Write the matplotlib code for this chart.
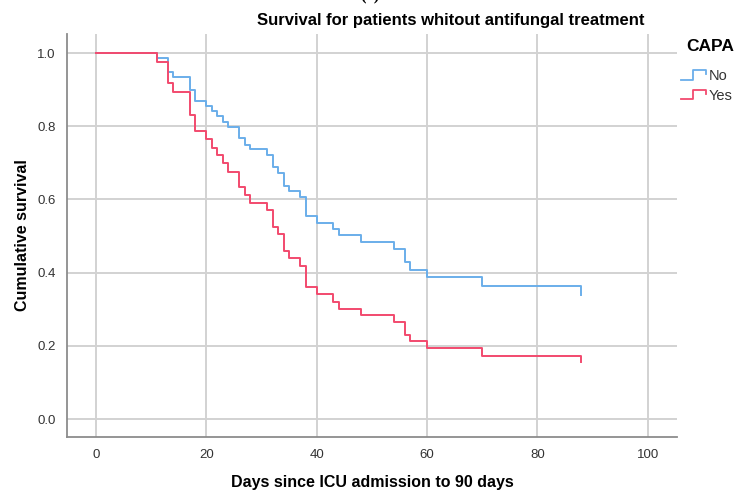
import matplotlib
matplotlib.use("Agg")
import matplotlib.pyplot as plt
from matplotlib.legend_handler import HandlerBase
from matplotlib.lines import Line2D

# Kaplan-Meier estimates (same event days for both groups)
days = [0, 11, 13, 14, 17, 18, 20, 21, 22, 23, 24, 26, 27, 28, 31, 32, 33,
        34, 35, 37, 38, 40, 43, 44, 48, 54, 56, 57, 60, 70, 88]
surv_no = [1.0, 0.987, 0.949, 0.935, 0.899, 0.870, 0.855, 0.842, 0.828, 0.812,
           0.797, 0.767, 0.749, 0.737, 0.721, 0.690, 0.672, 0.638, 0.622, 0.607,
           0.554, 0.537, 0.520, 0.502, 0.483, 0.464, 0.428, 0.408, 0.387, 0.363,
           0.339]
surv_yes = [1.0, 0.976, 0.917, 0.893, 0.831, 0.788, 0.764, 0.742, 0.721, 0.699,
            0.676, 0.635, 0.612, 0.590, 0.570, 0.525, 0.505, 0.460, 0.439, 0.419,
            0.361, 0.342, 0.321, 0.302, 0.284, 0.266, 0.231, 0.213, 0.193, 0.173,
            0.157]
groups = ["No", "Yes"]
colors = ["#6aaeea", "#f24a6e"]
x_ticks = [0, 20, 40, 60, 80, 100]
y_ticks = [0.0, 0.2, 0.4, 0.6, 0.8, 1.0]

plt.rcParams['font.family'] = ['Liberation Sans', 'DejaVu Sans']


class StepHandler(HandlerBase):
    def create_artists(self, legend, orig_handle, xdescent, ydescent,
                       width, height, fontsize, trans):
        x0, x1 = -xdescent, -xdescent + width
        y0, y1 = -ydescent + 0.05 * height, -ydescent + 0.95 * height
        xm = x0 + 0.5 * width
        line = Line2D([x0, xm, xm, x1, x1], [y0, y0, y1, y1, y1 - 0.35 * height],
                      color=orig_handle.get_color(), lw=1.3, transform=trans)
        return [line]


fig = plt.figure(figsize=(7.39, 4.94), dpi=100)
ax = fig.add_axes([0.0907, 0.1154, 0.8253, 0.8156])

handles = []
for s, c in zip([surv_no, surv_yes], colors):
    h, = ax.step(days, s, where='post', color=c, lw=1.4, zorder=3)
    handles.append(h)

ax.set_xlim(-5.25, 105.3)
ax.set_ylim(-0.049, 1.052)
ax.set_xticks(x_ticks)
ax.set_yticks(y_ticks)
ax.set_yticklabels([f"{v:.1f}" for v in y_ticks])
ax.grid(True, color="#d2d2d2", lw=1.4)
ax.set_axisbelow(True)
for side in ["top", "right"]:
    ax.spines[side].set_visible(False)
for side in ["left", "bottom"]:
    ax.spines[side].set_color("#8c8c8c")
    ax.spines[side].set_linewidth(1.3)
ax.tick_params(length=0, labelsize=9.5, labelcolor="#333333")
ax.tick_params(axis='x', pad=9)
ax.tick_params(axis='y', pad=8)
for lab in ax.get_xticklabels():
    lab.set_fontfamily(['Liberation Sans Narrow', 'Liberation Sans'])

ax.set_ylabel("Cumulative survival", fontsize=11.5, fontweight='bold', labelpad=5)
ax.set_xlabel("Days since ICU admission to 90 days", fontsize=11.5,
              fontweight='bold', labelpad=10)

fig.text(0.61, 0.958, "Survival for patients whitout antifungal treatment",
         ha='center', va='center', fontsize=12, fontweight='bold')
# panel letter, cut off at the top edge as in the source figure
fig.text(0.5, 1.007, "(a)", ha='center', va='center', fontsize=12,
         fontweight='bold', family=['Liberation Serif', 'DejaVu Serif'])

# legend: title drawn separately so the gap to the entries can be set freely
fig.text(0.928, 0.905, "CAPA", ha='left', va='center', fontsize=12.5,
         fontweight='bold')
leg = fig.legend(handles, groups, loc='upper left',
                 bbox_to_anchor=(0.921, 0.860), frameon=False,
                 handler_map={h: StepHandler() for h in handles},
                 fontsize=10.5, handlelength=1.75, handletextpad=0.15,
                 labelspacing=0.4, borderaxespad=0, borderpad=0)
for t in leg.get_texts():
    t.set_color("#333333")

fig.savefig("out.png", dpi=100)
